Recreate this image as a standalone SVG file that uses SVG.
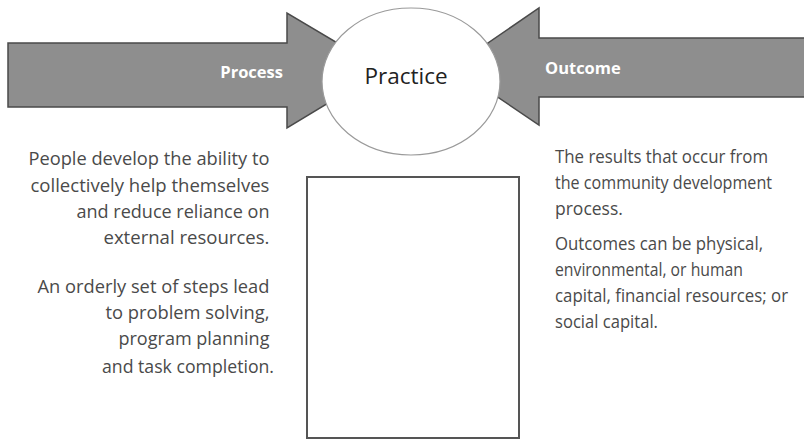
<svg xmlns="http://www.w3.org/2000/svg" width="804" height="440" viewBox="0 0 804 440">
  <style>
    .arrow { fill: #8e8e8e; stroke: #4a4a4a; stroke-width: 1.5; stroke-linejoin: miter; }
    .alabel { font-family: "Open Sans", "Liberation Sans", sans-serif; font-weight: bold; font-size: 16.5px; fill: #ffffff; }
    .body { font-family: "Open Sans", "Liberation Sans", sans-serif; font-size: 17.5px; fill: #4a4a4a; }
    .title { font-family: "Open Sans", "Liberation Sans", sans-serif; font-size: 22.5px; fill: #222222; }
  </style>
  <rect x="0" y="0" width="804" height="440" fill="#ffffff"/>

  <g id="connectors">
    <g id="arrow-process">
      <path class="arrow" d="M8,43 L287,43 L287,13 L383,70 L287,128 L287,107 L8,107 Z"/>
      <text class="alabel" x="283" y="78" text-anchor="end">Process</text>
    </g>
    <g id="arrow-outcome">
      <path class="arrow" d="M805,38 L539,38 L539,8 L453,67 L539,125 L539,97 L805,97 Z"/>
      <text class="alabel" x="545" y="74">Outcome</text>
    </g>
  </g>

  <g id="practice">
    <ellipse cx="411" cy="81.5" rx="89" ry="73.5" fill="#ffffff" stroke="#9a9a9a" stroke-width="1.2"/>
    <text class="title" x="406" y="84" text-anchor="middle">Practice</text>
  </g>

  <g id="box">
    <rect x="307" y="177" width="212" height="261" fill="#ffffff" stroke="#555555" stroke-width="2"/>
  </g>

  <g id="process-text">
    <text class="body" text-anchor="end">
      <tspan x="274" y="165" textLength="241" lengthAdjust="spacingAndGlyphs">People develop the ability to</tspan>
      <tspan x="274" y="192" textLength="239" lengthAdjust="spacingAndGlyphs">collectively help themselves</tspan>
      <tspan x="274" y="218" textLength="193" lengthAdjust="spacingAndGlyphs">and reduce reliance on</tspan>
      <tspan x="274" y="244" textLength="166" lengthAdjust="spacingAndGlyphs">external resources.</tspan>
      <tspan x="274" y="293" textLength="232" lengthAdjust="spacingAndGlyphs">An orderly set of steps lead</tspan>
      <tspan x="274" y="319" textLength="164" lengthAdjust="spacingAndGlyphs">to problem solving,</tspan>
      <tspan x="274" y="345" textLength="151" lengthAdjust="spacingAndGlyphs">program planning</tspan>
      <tspan x="274" y="373" textLength="172" lengthAdjust="spacingAndGlyphs">and task completion.</tspan>
    </text>
  </g>

  <g id="outcome-text">
    <text class="body">
      <tspan x="555" y="163" textLength="213" lengthAdjust="spacingAndGlyphs">The results that occur from</tspan>
      <tspan x="555" y="189" textLength="217" lengthAdjust="spacingAndGlyphs">the community development</tspan>
      <tspan x="555" y="215">process.</tspan>
      <tspan x="555" y="250" textLength="208" lengthAdjust="spacingAndGlyphs">Outcomes can be physical,</tspan>
      <tspan x="555" y="276" textLength="188" lengthAdjust="spacingAndGlyphs">environmental, or human</tspan>
      <tspan x="555" y="302" textLength="233" lengthAdjust="spacingAndGlyphs">capital, financial resources; or</tspan>
      <tspan x="555" y="328" textLength="103" lengthAdjust="spacingAndGlyphs">social capital.</tspan>
    </text>
  </g>
</svg>
